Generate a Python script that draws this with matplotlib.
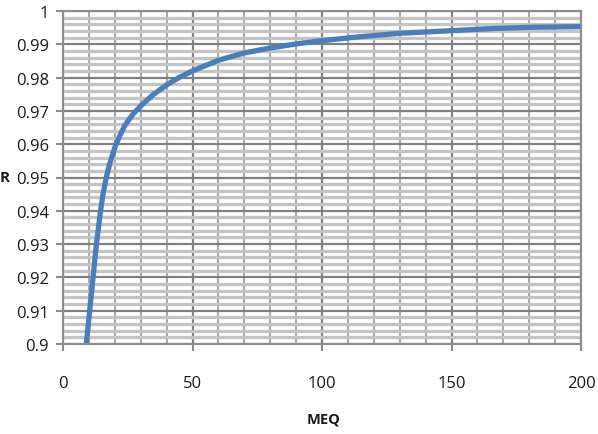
import matplotlib
matplotlib.use("Agg")
import matplotlib.pyplot as plt
from matplotlib.ticker import MultipleLocator

meq = [9, 10.3, 11.6, 12.9, 14.5, 15.5, 16.7, 18, 20, 22, 24, 27, 30, 35,
       40, 45, 50, 60, 70, 80, 90, 100, 115, 130, 150, 165, 180, 200]
r_vals = [0.900, 0.910, 0.920, 0.930, 0.940, 0.9452, 0.950, 0.9540, 0.9590,
          0.9627, 0.9658, 0.969, 0.9715, 0.975, 0.9778, 0.9801, 0.9820,
          0.9852, 0.9874, 0.9889, 0.9901, 0.9911, 0.9923, 0.9933, 0.9941,
          0.9947, 0.9951, 0.9953]
x_ticks = [0, 50, 100, 150, 200]
y_ticks = [0.9, 0.91, 0.92, 0.93, 0.94, 0.95, 0.96, 0.97, 0.98, 0.99, 1.0]
y_tick_labels = ["0.9", "0.91", "0.92", "0.93", "0.94", "0.95", "0.96",
                 "0.97", "0.98", "0.99", "1"]

plt.rcParams['font.family'] = ['Open Sans', 'DejaVu Sans']

fig = plt.figure(figsize=(5.98, 4.35), dpi=100)
ax = fig.add_axes([63/598, 1-345/435, (581-63)/598, (345-12)/435])

ax.set_xlim(0, 200)
ax.set_ylim(0.9, 1.0)
ax.set_xticks(x_ticks)
ax.set_yticks(y_ticks)
ax.set_yticklabels(y_tick_labels)
ax.xaxis.set_minor_locator(MultipleLocator(10))
ax.yaxis.set_minor_locator(MultipleLocator(0.002))

ax.grid(which='minor', axis='y', color='#c4c4c4', linewidth=2.4)
ax.grid(which='minor', axis='x', color='#a8a8a8', linewidth=1.5)
ax.grid(which='major', color='#808080', linewidth=1.6)
ax.set_axisbelow(True)

for s in ax.spines.values():
    s.set_color('#8c8c8c')
    s.set_linewidth(1.5)

ax.tick_params(which='major', direction='out', length=5, width=1.5,
               color='#8c8c8c', labelsize=12, labelcolor='#1a1a1a')
ax.tick_params(which='minor', length=0)
ax.tick_params(axis='x', pad=17)
ax.tick_params(axis='y', pad=5)

ax.plot(meq, r_vals, color='#4a7ebb', linewidth=3.8, solid_capstyle='butt',
        solid_joinstyle='round')

fig.text(0/598, 1-178/435, 'R', fontsize=11, fontweight='bold',
         ha='left', va='center', color='#1a1a1a')
fig.text(324/598, 1-420/435, 'MEQ', fontsize=10.5, fontweight='bold',
         ha='center', va='center', color='#1a1a1a')

fig.savefig('out.png', dpi=100)
